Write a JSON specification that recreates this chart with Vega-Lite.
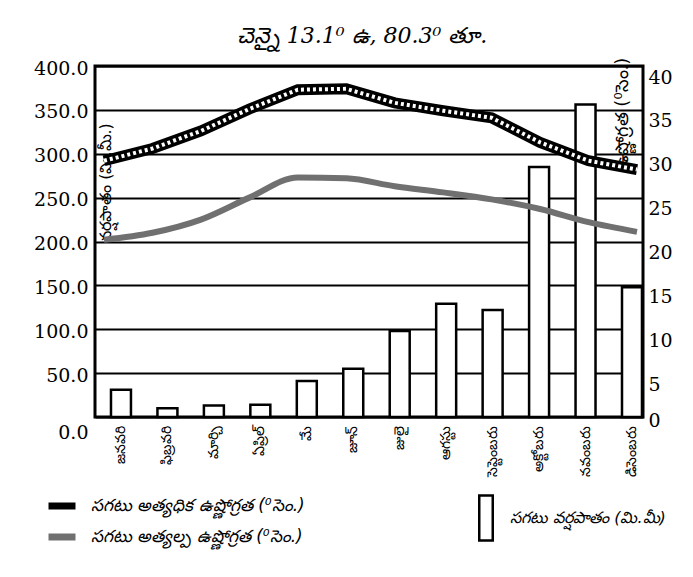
{
  "$schema": "https://vega.github.io/schema/vega-lite/v6.json",
  "width": 548,
  "height": 351,
  "autosize": {"type": "none"},
  "padding": {"left": 95, "top": 66, "right": 50, "bottom": 160},
  "background": "white",
  "title": {"text": "చెన్నై 13.1⁰ ఉ, 80.3⁰ తూ.", "fontSize": 22, "font": "DejaVu Serif", "fontStyle": "italic", "fontWeight": "normal", "offset": 9, "anchor": "middle", "dx": -7, "color": "black"},
  "datasets": {
    "rain": [
      {"month": "జనవరి", "mm": 31},
      {"month": "ఫిబ్రవరి", "mm": 10},
      {"month": "మార్చి", "mm": 13},
      {"month": "ఏప్రిల్", "mm": 14},
      {"month": "మే", "mm": 41},
      {"month": "జూన్", "mm": 55},
      {"month": "జులై", "mm": 98},
      {"month": "ఆగస్టు", "mm": 129},
      {"month": "సెప్టెంబరు", "mm": 122},
      {"month": "అక్టోబరు", "mm": 285},
      {"month": "నవంబరు", "mm": 356},
      {"month": "డిసెంబరు", "mm": 148}
    ],
    "temp": [
      {"month": "జనవరి", "kind": "max", "series": "సగటు అత్యధిక ఉష్ణోగ్రత (⁰సెం.)", "value": 29.2},
      {"month": "ఫిబ్రవరి", "kind": "max", "series": "సగటు అత్యధిక ఉష్ణోగ్రత (⁰సెం.)", "value": 30.6},
      {"month": "మార్చి", "kind": "max", "series": "సగటు అత్యధిక ఉష్ణోగ్రత (⁰సెం.)", "value": 32.6},
      {"month": "ఏప్రిల్", "kind": "max", "series": "సగటు అత్యధిక ఉష్ణోగ్రత (⁰సెం.)", "value": 35.1},
      {"month": "మే", "kind": "max", "series": "సగటు అత్యధిక ఉష్ణోగ్రత (⁰సెం.)", "value": 37.3},
      {"month": "జూన్", "kind": "max", "series": "సగటు అత్యధిక ఉష్ణోగ్రత (⁰సెం.)", "value": 37.4},
      {"month": "జులై", "kind": "max", "series": "సగటు అత్యధిక ఉష్ణోగ్రత (⁰సెం.)", "value": 35.8},
      {"month": "ఆగస్టు", "kind": "max", "series": "సగటు అత్యధిక ఉష్ణోగ్రత (⁰సెం.)", "value": 34.9},
      {"month": "సెప్టెంబరు", "kind": "max", "series": "సగటు అత్యధిక ఉష్ణోగ్రత (⁰సెం.)", "value": 34.1},
      {"month": "అక్టోబరు", "kind": "max", "series": "సగటు అత్యధిక ఉష్ణోగ్రత (⁰సెం.)", "value": 31.3},
      {"month": "నవంబరు", "kind": "max", "series": "సగటు అత్యధిక ఉష్ణోగ్రత (⁰సెం.)", "value": 29.2},
      {"month": "డిసెంబరు", "kind": "max", "series": "సగటు అత్యధిక ఉష్ణోగ్రత (⁰సెం.)", "value": 28.2},
      {"month": "జనవరి", "kind": "min", "series": "సగటు అత్యల్ప ఉష్ణోగ్రత (⁰సెం.)", "value": 20.2},
      {"month": "ఫిబ్రవరి", "kind": "min", "series": "సగటు అత్యల్ప ఉష్ణోగ్రత (⁰సెం.)", "value": 21.0},
      {"month": "మార్చి", "kind": "min", "series": "సగటు అత్యల్ప ఉష్ణోగ్రత (⁰సెం.)", "value": 22.5},
      {"month": "ఏప్రిల్", "kind": "min", "series": "సగటు అత్యల్ప ఉష్ణోగ్రత (⁰సెం.)", "value": 25.0},
      {"month": "మే", "kind": "min", "series": "సగటు అత్యల్ప ఉష్ణోగ్రత (⁰సెం.)", "value": 27.3},
      {"month": "జూన్", "kind": "min", "series": "సగటు అత్యల్ప ఉష్ణోగ్రత (⁰సెం.)", "value": 27.2},
      {"month": "జులై", "kind": "min", "series": "సగటు అత్యల్ప ఉష్ణోగ్రత (⁰సెం.)", "value": 26.3},
      {"month": "ఆగస్టు", "kind": "min", "series": "సగటు అత్యల్ప ఉష్ణోగ్రత (⁰సెం.)", "value": 25.6},
      {"month": "సెప్టెంబరు", "kind": "min", "series": "సగటు అత్యల్ప ఉష్ణోగ్రత (⁰సెం.)", "value": 24.8},
      {"month": "అక్టోబరు", "kind": "min", "series": "సగటు అత్యల్ప ఉష్ణోగ్రత (⁰సెం.)", "value": 23.7},
      {"month": "నవంబరు", "kind": "min", "series": "సగటు అత్యల్ప ఉష్ణోగ్రత (⁰సెం.)", "value": 22.2},
      {"month": "డిసెంబరు", "kind": "min", "series": "సగటు అత్యల్ప ఉష్ణోగ్రత (⁰సెం.)", "value": 21.1}
    ]
  },
  "layer": [
    {
      "data": {"name": "rain"},
      "mark": {"type": "bar", "fill": "white", "stroke": "black", "strokeWidth": 2.5},
      "encoding": {
        "x": {
          "field": "month", "type": "ordinal",
          "scale": {"domain": ["జనవరి", "ఫిబ్రవరి", "మార్చి", "ఏప్రిల్", "మే", "జూన్", "జులై", "ఆగస్టు", "సెప్టెంబరు", "అక్టోబరు", "నవంబరు", "డిసెంబరు"], "paddingInner": 0.57, "paddingOuter": 0.183, "align": 0.94},
          "axis": {"title": null, "labelAngle": -90, "labelAlign": "right", "labelBaseline": "middle", "labelPadding": 8, "labelFontSize": 14, "labelColor": "black", "ticks": false, "domain": false}
        },
        "y": {
          "field": "mm", "type": "quantitative",
          "scale": {"domain": [0, 400], "nice": false},
          "axis": {
            "values": [0, 50, 100, 150, 200, 250, 300, 350, 400], "format": ".1f",
            "grid": true, "gridColor": "black", "gridWidth": 2, "gridOpacity": 1,
            "domain": false, "ticks": false,
            "labelFont": "DejaVu Serif", "labelFontSize": 19, "labelColor": "black", "labelPadding": 7,
            "labelOffset": {"condition": {"test": "datum.value === 0", "value": 15}, "value": 2},
            "title": "వర్షపాతం (మి.మీ.)", "titleX": 10, "titleY": 116, "titleAngle": -90,
            "titleFontSize": 16, "titleFontWeight": "normal", "titleAlign": "center", "titleBaseline": "middle", "titleColor": "black"
          }
        },
        "fill": {
          "datum": "సగటు వర్షపాతం (మి.మీ)",
          "scale": {"range": ["white"]},
          "legend": {
            "orient": "none", "legendX": 367, "legendY": 428, "title": null,
            "symbolType": "M-0.3,-1L0.3,-1L0.3,1L-0.3,1Z", "symbolSize": 2025,
            "symbolStrokeColor": "black", "symbolStrokeWidth": 2.5, "symbolFillColor": "white",
            "labelFontSize": 16, "labelFontStyle": "italic", "labelOffset": 0, "labelLimit": 0, "labelColor": "black"
          }
        }
      }
    },
    {
      "data": {"name": "temp"},
      "encoding": {
        "x": {
          "field": "month", "type": "ordinal",
          "scale": {"type": "point", "domain": ["జనవరి", "ఫిబ్రవరి", "మార్చి", "ఏప్రిల్", "మే", "జూన్", "జులై", "ఆగస్టు", "సెప్టెంబరు", "అక్టోబరు", "నవంబరు", "డిసెంబరు"], "padding": 0.155, "align": 0.6},
          "axis": null
        },
        "y": {
          "field": "value", "type": "quantitative",
          "scale": {"domain": [0, 40], "nice": false},
          "axis": {
            "orient": "right", "values": [0, 5, 10, 15, 20, 25, 30, 35, 40],
            "grid": false, "domain": false, "ticks": false,
            "labelFont": "DejaVu Serif", "labelFontSize": 19, "labelColor": "black", "labelPadding": 5,
            "labelOffset": {"condition": {"test": "datum.value === 0", "value": 3}, "value": 11},
            "title": "ఉష్ణోగ్రత (⁰సెం.)", "titleX": -21, "titleY": 47, "titleAngle": -90,
            "titleFontSize": 18, "titleFontWeight": "normal", "titleAlign": "center", "titleBaseline": "middle", "titleColor": "black"
          }
        }
      },
      "layer": [
        {
          "transform": [{"filter": {"field": "kind", "equal": "min"}}],
          "mark": {"type": "line", "interpolate": "monotone", "strokeWidth": 6},
          "encoding": {
            "stroke": {
              "field": "series", "type": "nominal",
              "scale": {"domain": ["సగటు అత్యధిక ఉష్ణోగ్రత (⁰సెం.)", "సగటు అత్యల్ప ఉష్ణోగ్రత (⁰సెం.)"], "range": ["black", "#707070"]},
              "legend": {
                "orient": "none", "legendX": -50, "legendY": 423, "title": null,
                "symbolType": "stroke", "symbolSize": 729, "symbolStrokeWidth": 7,
                "labelFontSize": 17, "labelFontStyle": "italic", "labelOffset": 12, "rowPadding": -4, "labelLimit": 0, "labelColor": "black"
              }
            }
          }
        },
        {
          "transform": [{"filter": {"field": "kind", "equal": "max"}}],
          "mark": {"type": "line", "strokeWidth": 11},
          "encoding": {
            "stroke": {"field": "series", "type": "nominal"}
          }
        },
        {
          "transform": [{"filter": {"field": "kind", "equal": "max"}}],
          "mark": {"type": "line", "stroke": "white", "strokeWidth": 4, "strokeDash": [3, 3]},
          "encoding": {}
        }
      ]
    }
  ],
  "resolve": {"scale": {"x": "independent", "y": "independent"}},
  "config": {
    "view": {"stroke": "black", "strokeWidth": 3},
    "font": "DejaVu Sans"
  }
}
